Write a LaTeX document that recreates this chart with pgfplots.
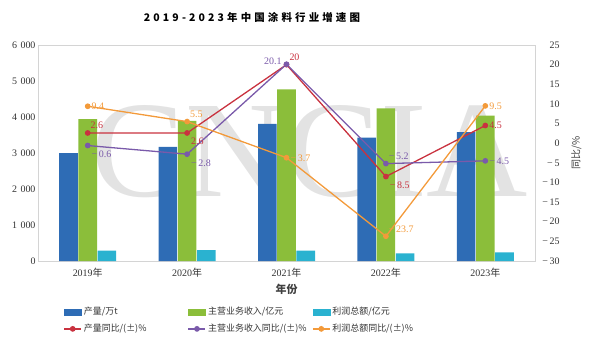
\documentclass[border=0pt]{standalone}
\usepackage{pgfplots}
\pgfplotsset{compat=1.18}
\usepackage{pgfplotstable}
\usepackage{fontspec}
\setmainfont{Liberation Serif}
\newfontfamily\cjk{Noto Sans CJK SC}
\newfontfamily\cjktitle[LetterSpace=30]{Noto Sans CJK SC}
\definecolor{cblue}{HTML}{2E6CB5}
\definecolor{cgreen}{HTML}{8BBE3A}
\definecolor{ccyan}{HTML}{2AB2D0}
\definecolor{cred}{HTML}{C9323F}
\definecolor{cpurple}{HTML}{7A5AAA}
\definecolor{corange}{HTML}{F39A3A}
\definecolor{cframe}{HTML}{D4D4D4}
\newcommand\pW[1]{\makebox[0pt][l]{\smash{\hspace{4bp}\raisebox{-3.3bp}{#1}}}}
\newcommand\pSW[1]{\makebox[0pt][l]{\smash{\hspace{3bp}\raisebox{4bp}{#1}}}}
\newcommand\pNW[1]{\makebox[0pt][l]{\smash{\hspace{4bp}\raisebox{-12bp}{#1}}}}
\newcommand\pSE[1]{\makebox[0pt][r]{\smash{\raisebox{-0.5bp}{#1}\hspace{5bp}}}}
\pgfplotstableread{
x prod rev prof
0 3000 3940 285
1 3170 3890 305
2 3810 4770 285
3 3430 4240 215
4 3580 4040 240
}\bars
\pgfplotstableread{
x y lab
0 2.6 \pSW{2.6}
1 2.6 \pNW{2.6}
2 20 \pSW{20}
3 -8.5 \pNW{−\,8.5}
4 4.5 \pW{4.5}
}\redd
\pgfplotstableread{
x y lab
0 -0.6 \pNW{−\,0.6}
1 -2.8 \pNW{−\,2.8}
2 20.1 \pSE{20.1}
3 -5.2 \pSW{−\,5.2}
4 -4.5 \pW{−\,4.5}
}\purp
\pgfplotstableread{
x y lab
0 9.4 \pW{9.4}
1 5.5 \pSW{5.5}
2 -3.7 \pW{−\,3.7}
3 -23.7 \pSW{−\,23.7}
4 9.5 \pW{9.5}
}\oran
\pgfplotsset{
  lbl/.style={
    forget plot,
    nodes near coords={\pgfplotspointmeta},
    point meta=explicit symbolic,
    every node near coord/.append style={font=\fontsize{10}{11}\selectfont, anchor=center, inner sep=0pt, text=#1},
  }
}
\begin{document}
\begin{tikzpicture}[x=1bp,y=1bp]
\useasboundingbox (0,0) rectangle (605,360);
\node[font=\cjktitle\bfseries\fontsize{10.5}{12}\selectfont] at (252,343) {2019-2023年中国涂料行业增速图};
\node[text=black!11, font=\fontsize{138}{138}\selectfont, xscale=1.02] at (310,208) {CNCIA};
\begin{axis}[
  at={(38bp,99bp)}, anchor=south west,
  scale only axis, width=497bp, height=216bp,
  xmin=-0.5, xmax=4.5, ymin=0, ymax=6000,
  ybar=0.6bp, bar width=18.6bp,
  axis line style={cframe}, tick style={draw=none},
  xtick={0,1,2,3,4},
  xticklabels={2019{\cjk 年},2020{\cjk 年},2021{\cjk 年},2022{\cjk 年},2023{\cjk 年}},
  ytick={0,1000,...,6000},
  /pgf/number format/assume math mode=true,
  /pgf/number format/1000 sep={\hspace{0.35em}},
  scaled y ticks=false,
  ticklabel style={font=\fontsize{10}{11}\selectfont, text=black!80},
  xticklabel style={yshift=1bp},
  yticklabel style={xshift=1bp},
  xlabel={\cjk\bfseries 年份}, xlabel style={font=\fontsize{11}{12}\selectfont, text=black!75, yshift=0bp},
]
\addplot[draw=none, fill=cblue] table[x=x,y=prod]{\bars};
\addplot[draw=none, fill=cgreen] table[x=x,y=rev]{\bars};
\addplot[draw=none, fill=ccyan] table[x=x,y=prof]{\bars};
\end{axis}
\begin{axis}[
  at={(38bp,99bp)}, anchor=south west,
  scale only axis, width=497bp, height=216bp,
  xmin=-0.5, xmax=4.5, ymin=-30, ymax=25,
  axis x line=none, axis y line*=right,
  axis line style={cframe}, tick style={draw=none},
  ytick={-30,-25,...,25},
  yticklabels={−\,30,−\,25,−\,20,−\,15,−\,10,−\,5,0,5,10,15,20,25},
  ticklabel style={font=\fontsize{10}{11}\selectfont, text=black!80},
  yticklabel style={anchor=east, xshift=28bp},
  ylabel={\cjk 同比/\%}, ylabel style={font=\fontsize{10}{12}\selectfont, text=black!75, yshift=-5bp},
  legend columns=3,
  legend style={draw=none, fill=none, at={(0.045,-0.195)}, anchor=north west,
    font=\cjk\fontsize{9}{11}\selectfont, text=black!80,
    /tikz/every even column/.append style={column sep=0bp},
    row sep=4bp},
  legend cell align=left,
]
\addlegendimage{legend image code/.code={\fill[cblue] (0,-3bp) rectangle (17bp,3bp);}}
\addlegendentry{\makebox[102bp][l]{产量/万t}}
\addlegendimage{legend image code/.code={\fill[cgreen] (0,-3bp) rectangle (17bp,3bp);}}
\addlegendentry{\makebox[102bp][l]{主营业务收入/亿元}}
\addlegendimage{legend image code/.code={\fill[ccyan] (0,-3bp) rectangle (17bp,3bp);}}
\addlegendentry{\makebox[102bp][l]{利润总额/亿元}}
\addlegendimage{cred, line width=1.3pt, mark=*, mark size=2.2pt}
\addlegendentry{\makebox[102bp][l]{产量同比/(±)\%}}
\addlegendimage{cpurple, line width=1.3pt, mark=*, mark size=2.2pt}
\addlegendentry{\makebox[102bp][l]{主营业务收入同比/(±)\%}}
\addlegendimage{corange, line width=1.3pt, mark=*, mark size=2.2pt}
\addlegendentry{\makebox[102bp][l]{利润总额同比/(±)\%}}
\addplot[cred, line width=1.3pt, mark=*, mark size=2.2pt, lbl=cred] table[x=x,y=y,meta=lab]{\redd};
\addplot[cpurple, line width=1.3pt, mark=*, mark size=2.2pt, lbl=cpurple] table[x=x,y=y,meta=lab]{\purp};
\addplot[corange, line width=1.3pt, mark=*, mark size=2.2pt, lbl=corange] table[x=x,y=y,meta=lab]{\oran};
\end{axis}
\end{tikzpicture}
\end{document}
